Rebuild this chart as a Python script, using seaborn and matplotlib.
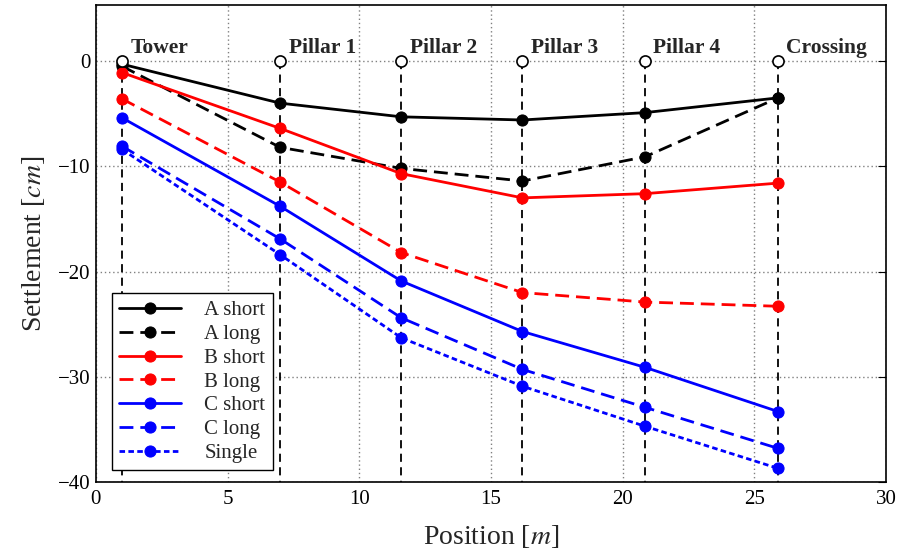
import matplotlib
matplotlib.use("Agg")
import matplotlib.pyplot as plt
import seaborn as sns
import pandas as pd

positions = [1.0, 7.0, 11.6, 16.2, 20.85, 25.9]
pier_labels = ["Tower", "Pillar 1", "Pillar 2", "Pillar 3", "Pillar 4", "Crossing"]

a_short = [-0.3, -4.0, -5.3, -5.6, -4.9, -3.5]
a_long = [-0.5, -8.2, -10.2, -11.4, -9.1, -3.5]
b_short = [-1.1, -6.4, -10.7, -13.0, -12.6, -11.6]
b_long = [-3.6, -11.5, -18.2, -22.0, -22.9, -23.3]
c_short = [-5.4, -13.8, -20.9, -25.7, -29.1, -33.3]
c_long = [-8.1, -16.9, -24.4, -29.3, -32.9, -36.8]
single = [-8.4, -18.4, -26.3, -30.9, -34.7, -38.7]

series_names = ["A short", "A long", "B short", "B long", "C short", "C long", "Single"]
series_values = [a_short, a_long, b_short, b_long, c_short, c_long, single]
series_colors = ["black", "black", "red", "red", "blue", "blue", "blue"]
series_dash = [None, (5, 2.5), None, (5, 2.5), None, (5, 2.5), (2, 1.2)]

sns.set_style("white")
plt.rcParams["font.family"] = ["Liberation Serif", "DejaVu Serif"]
plt.rcParams["mathtext.fontset"] = "stix"

fig = plt.figure(figsize=(9.04, 5.55), dpi=100)
ax = fig.add_axes([0.106, 0.1315, 0.874, 0.859])

# Pier vertical lines and markers
for xp, lab in zip(positions, pier_labels):
    ax.plot([xp, xp], [0, -40], color="black", lw=1.3, ls=(0, (4.5, 3)), zorder=2)
    ax.plot([xp], [0], marker="o", ms=8, mfc="white", mec="black", mew=1.2, zorder=6, clip_on=False)
    ax.text(xp + 0.32, 0.8, lab, fontsize=15.5, fontweight="bold", ha="left", va="baseline", zorder=7)

for name, vals, col, dash in zip(series_names, series_values, series_colors, series_dash):
    df = pd.DataFrame({"x": positions, "y": vals})
    sns.lineplot(data=df, x="x", y="y", ax=ax, color=col, lw=2, marker="o", ms=8,
                 mec=col, label=name, zorder=5)
    line = ax.get_lines()[-1]
    if dash is not None:
        line.set_dashes(dash)

ax.set_xlim(0, 30)
ax.set_ylim(-40, 5.3)
ax.set_xticks([0, 5, 10, 15, 20, 25, 30])
ax.set_yticks([0, -10, -20, -30, -40])
ax.set_yticklabels(["0", "\u221210", "\u221220", "\u221230", "\u221240"])
ax.grid(True, color="gray", ls=(0, (1, 2)), lw=1)
ax.tick_params(direction="in", length=6, labelsize=15, top=False, right=True, colors="black")
ax.tick_params(axis="x", pad=6)
for s in ax.spines.values():
    s.set_color("black")
    s.set_linewidth(1.2)
ax.set_xlabel("Position [$m$]", fontsize=20, labelpad=10)
ax.set_ylabel("Settlement [$cm$]", fontsize=20, labelpad=8)

leg = ax.legend(loc="lower left", fontsize=15, handlelength=3.0, frameon=True, fancybox=False,
                edgecolor="black", framealpha=1, borderpad=0.35, labelspacing=0.2,
                handletextpad=1.1, borderaxespad=0, bbox_to_anchor=(0.02, 0.025))
leg.get_frame().set_linewidth(1.0)
for h, dash in zip(leg.get_lines(), series_dash):
    if dash is not None:
        h.set_dashes(dash)

fig.savefig("out.png", dpi=100)
